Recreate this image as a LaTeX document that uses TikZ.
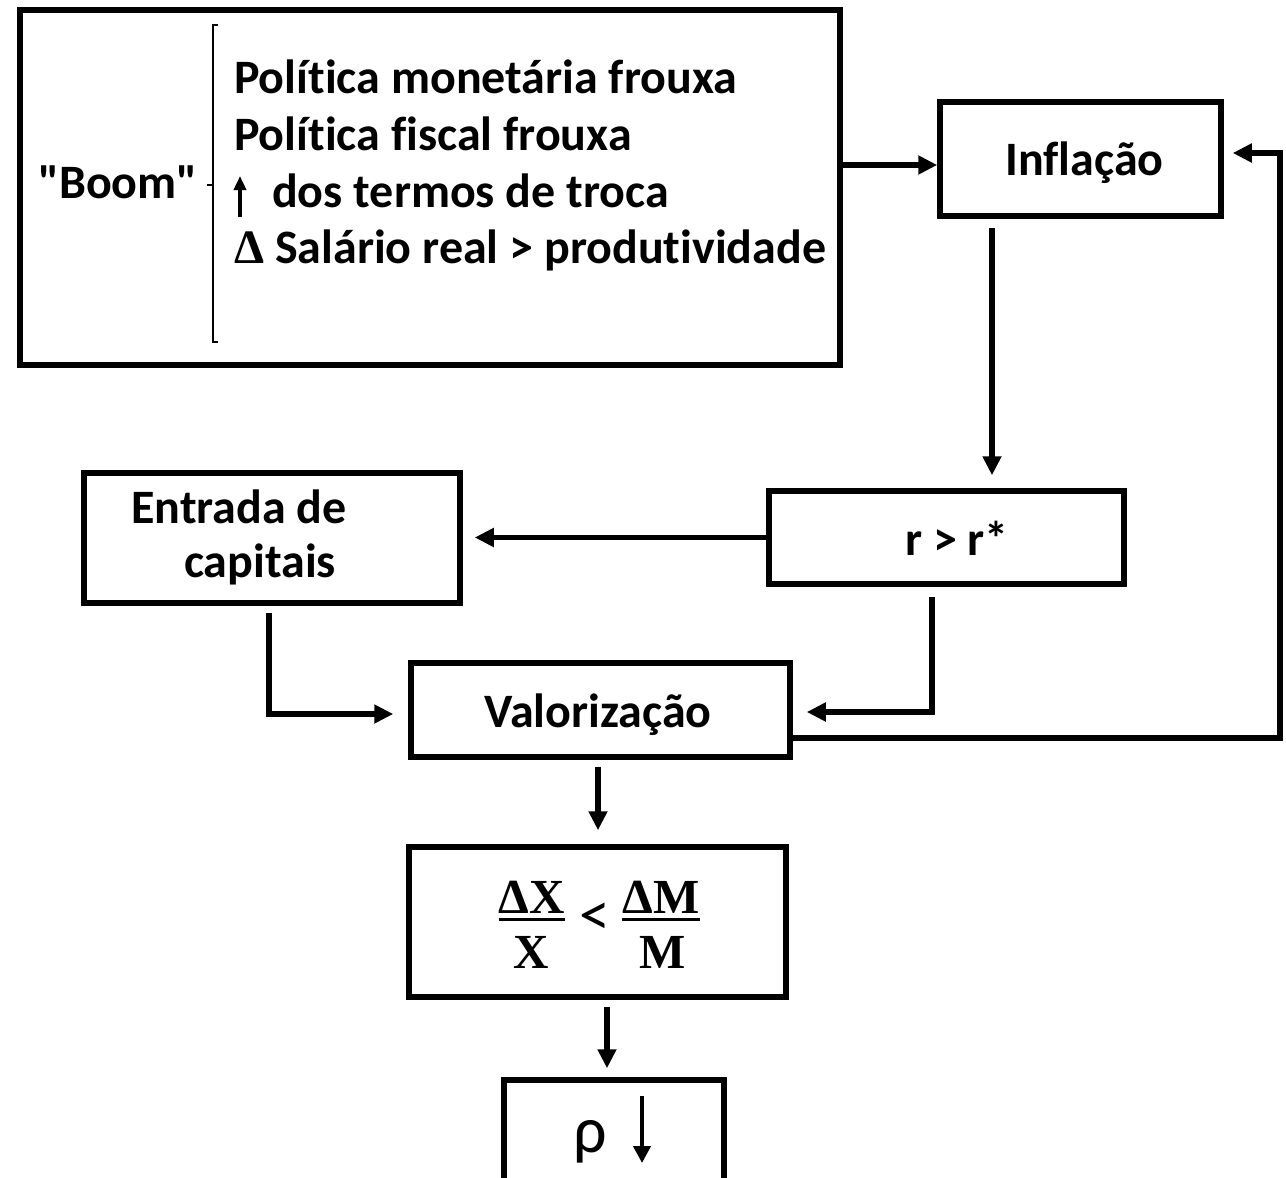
\documentclass[tikz,border=0pt]{standalone}
\usepackage{fontspec}
\setmainfont{Carlito}[Ligatures={TeXOff,NoCommon}]
\newfontfamily\tnr{Liberation Serif}
\usetikzlibrary{arrows.meta,calc}
\begin{document}
\begin{tikzpicture}[x=1pt,y=-1pt,
  box/.style={draw,line width=5.5pt,inner sep=0pt},
  arr/.style={line width=5.5pt,-{Triangle[length=19pt,width=18pt]}},
  txt/.style={inner sep=0pt,anchor=base,font=\fontsize{48pt}{58pt}\selectfont\bfseries},
  ltxt/.style={txt,anchor=base west},
  frtxt/.style={inner sep=0pt,anchor=base,font=\tnr\fontsize{49pt}{58pt}\selectfont\bfseries},
  brk/.style={line width=1.5pt}
]
\useasboundingbox (0,0) rectangle (1286,1178);
\clip (0,0) rectangle (1286,1178);

% boxes
\node[box,line width=6pt,minimum width=820pt,minimum height=355pt] (boom) at (430,187.5) {};
\node[box,minimum width=281pt,minimum height=114pt] (infl) at (1080.5,159) {};
\node[box,minimum width=376pt,minimum height=130pt] (ent) at (272,538) {};
\node[box,minimum width=355pt,minimum height=93pt] (rr) at (946.5,537.5) {};
\node[box,minimum width=379pt,minimum height=94pt] (val) at (600.5,710) {};
\node[box,minimum width=377pt,minimum height=150pt] (frac) at (597.5,922) {};
\node[box,minimum width=220pt,minimum height=120pt] (rho) at (614,1140) {};

% boom box content
\node[txt] (tboom) at (118,198) {"Boom"};
\draw[brk] (218,25) -- (213,25) -- (213,342) -- (218,342);
\draw[brk] (213,185) -- (207,185);
\node[ltxt] (l1) at (234,93) {Política monetária frouxa};
\node[ltxt] (l2) at (234,150) {Política fiscal frouxa};
\draw[line width=4pt,-{Triangle[length=14pt,width=12pt]}] (240,217) -- (240,176);
\node[ltxt] (l3) at (272,207) {dos termos de troca};
\node[ltxt] (l4) at (234,263) {{\tnr Δ} Salário real > produtividade};

% other labels
\node[txt] (tinfl) at (1084.5,175) {Inflação};
\node[txt] (tent1) at (239,523) {Entrada de};
\node[txt] (tent2) at (260,577) {capitais};
\node[txt] (trr) at (957,555) {r > r*};
\node[txt] (tval) at (598,727) {Valorização};

% fraction
\node[frtxt] (n1) at (532,913) {ΔX};
\node[frtxt] (d1) at (531,968) {X};
\node[frtxt] (n2) at (661,913) {ΔM};
\node[frtxt] (d2) at (663,968) {M};
\draw[line width=3pt] ($(n1.base west)+(0,6)$) -- ($(n1.base east)+(0,6)$);
\draw[line width=3pt] ($(n2.base west)+(0,6)$) -- ($(n2.base east)+(0,6)$);
\node[inner sep=0pt,anchor=base,font=\fontsize{62pt}{70pt}\selectfont] (lt) at (595,935) {<};

% rho
\node[inner sep=0pt,anchor=base,font=\fontsize{66pt}{76pt}\selectfont] (trho) at (590,1152) {ρ};
\draw[line width=4pt,-{Triangle[length=17pt,width=17pt]}] (642,1096) -- (642,1163);

% connectors
\coordinate (a1) at ($(infl.west)+(0,6)$);
\draw[arr] (boom.east |- a1) -- (a1);

\coordinate (fb) at (1280,0);
\coordinate (t2) at ($(infl.east)+(9,-6)$);
\draw[arr] ($(val.east)+(0,28)$) -| (fb |- t2) -- (t2);

\coordinate (a3) at ($(infl.south)+(-88.5,9)$);
\draw[arr,shorten >=13pt] (a3) -- (a3 |- rr.north);

\draw[arr,shorten >=12pt] (rr.west) -- (rr.west -| ent.east);

\coordinate (a5) at ($(ent.south)+(-3,7)$);
\draw[arr,shorten >=15pt] (a5) |- ($(val.west)+(0,4)$);

\draw[arr,shorten >=14pt] ($(rr.south)+(-14.5,10)$) |- ($(val.east)+(0,2)$);

\coordinate (a7) at ($(val.south)+(-2.5,7)$);
\draw[arr,shorten >=14pt] (a7) -- (a7 |- frac.north);

\coordinate (a8) at ($(frac.south)+(9.5,7)$);
\draw[arr,shorten >=9pt] (a8) -- (a8 |- rho.north);
\end{tikzpicture}
\end{document}
